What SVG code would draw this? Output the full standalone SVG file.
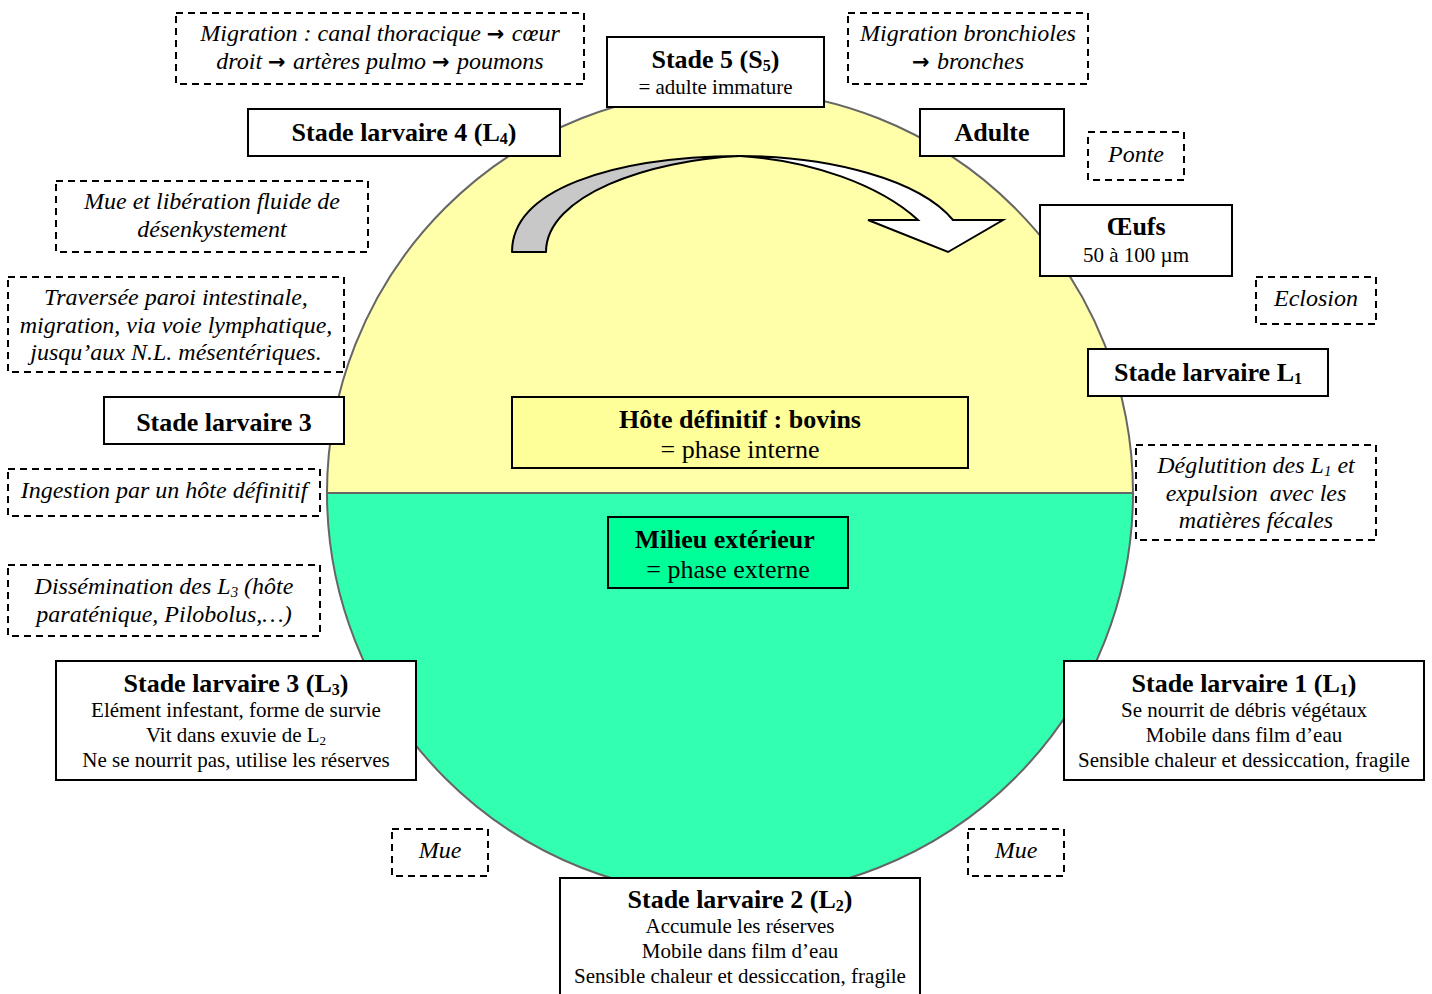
<svg xmlns="http://www.w3.org/2000/svg" width="1432" height="994" viewBox="0 0 1432 994" font-family="Liberation Serif">
<style>
.box{fill:#fff;stroke:#000;stroke-width:2}
.dash{fill:#fff;stroke:#000;stroke-width:2;stroke-dasharray:7,5}
.t{fill:#000;text-anchor:middle}
.b{font-weight:bold;font-size:26px}
.r{font-size:21px}
.i{font-style:italic;font-size:24px}
.s{font-size:62%}
.ar{font-family:"DejaVu Sans";font-style:normal;font-weight:bold;font-size:21px}
</style>
<rect width="1432" height="994" fill="#fff"/>
<g id="cycle">
<path d="M327,493 A403,403 0 0 1 1133,493 Z" fill="#FFFFAA"/>
<path d="M327,493 A403,403 0 0 0 1133,493 Z" fill="#33FFB0"/>
<circle cx="730" cy="493" r="403" fill="none" stroke="#666" stroke-width="2"/>
<line x1="327" y1="493" x2="1133" y2="493" stroke="#666" stroke-width="2"/>
</g>
<g id="connectors">
<path d="M512,252 C512,190 610,157 740,156 C650,160 546,195 546,252 Z" fill="#C8C8C8" stroke="#000" stroke-width="2" stroke-linejoin="round"/>
<path d="M740,156 C830,156 920,180 953,220 L1003,220 L948,252 L868,220 L918,220 C880,185 810,160 740,156 Z" fill="#fff" stroke="#000" stroke-width="2" stroke-linejoin="miter"/>
</g>
<g id="n-s5"><rect class="box" x="607" y="37" width="217" height="70"/>
<text class="t b" x="715.5" y="68">Stade 5 (S<tspan class="s" dy="3">5</tspan><tspan dy="-3">)</tspan></text>
<text class="t r" x="715.5" y="94">= adulte immature</text></g>
<g id="n-l4"><rect class="box" x="248" y="109" width="312" height="47"/>
<text class="t b" x="404" y="141">Stade larvaire 4 (L<tspan class="s" dy="3">4</tspan><tspan dy="-3">)</tspan></text></g>
<g id="n-adulte"><rect class="box" x="920" y="109" width="144" height="47"/>
<text class="t b" x="992" y="141">Adulte</text></g>
<g id="n-oeufs"><rect class="box" x="1040" y="205" width="192" height="71"/>
<text class="t b" x="1136" y="235">Œufs</text>
<text class="t r" x="1136" y="262">50 à 100 µm</text></g>
<g id="n-l1s"><rect class="box" x="1088" y="349" width="240" height="47"/>
<text class="t b" x="1208" y="381">Stade larvaire L<tspan class="s" dy="3">1</tspan></text></g>
<g id="n-l3s"><rect class="box" x="104" y="397" width="240" height="47"/>
<text class="t b" x="224" y="431">Stade larvaire 3</text></g>
<g id="n-hote"><rect x="512" y="397" width="456" height="71" fill="#FFFF99" stroke="#000" stroke-width="2"/>
<text class="t b" x="740" y="428">Hôte définitif : bovins</text>
<text class="t" x="740" y="458" font-size="26">= phase interne</text></g>
<g id="n-milieu"><rect x="608" y="517" width="240" height="71" fill="#00FF99" stroke="#000" stroke-width="2"/>
<text class="t b" x="725" y="548">Milieu extérieur</text>
<text class="t" x="728" y="578" font-size="26">= phase externe</text></g>
<g id="n-l3"><rect class="box" x="56" y="661" width="360" height="119"/>
<text class="t b" x="236" y="692">Stade larvaire 3 (L<tspan class="s" dy="3">3</tspan><tspan dy="-3">)</tspan></text>
<text class="t r" x="236" y="717">Elément infestant, forme de survie</text>
<text class="t r" x="236" y="742">Vit dans exuvie de L<tspan class="s" dy="3">2</tspan></text>
<text class="t r" x="236" y="767">Ne se nourrit pas, utilise les réserves</text></g>
<g id="n-l1"><rect class="box" x="1064" y="661" width="360" height="119"/>
<text class="t b" x="1244" y="692">Stade larvaire 1 (L<tspan class="s" dy="3">1</tspan><tspan dy="-3">)</tspan></text>
<text class="t r" x="1244" y="717">Se nourrit de débris végétaux</text>
<text class="t r" x="1244" y="742">Mobile dans film d’eau</text>
<text class="t r" x="1244" y="767">Sensible chaleur et dessiccation, fragile</text></g>
<g id="n-l2"><rect class="box" x="560" y="878" width="360" height="130"/>
<text class="t b" x="740" y="908">Stade larvaire 2 (L<tspan class="s" dy="3">2</tspan><tspan dy="-3">)</tspan></text>
<text class="t r" x="740" y="933">Accumule les réserves</text>
<text class="t r" x="740" y="958">Mobile dans film d’eau</text>
<text class="t r" x="740" y="983">Sensible chaleur et dessiccation, fragile</text></g>
<g id="d-migration"><rect class="dash" x="176" y="13" width="408" height="71"/>
<text class="t i" x="380" y="41">Migration : canal thoracique <tspan class="ar">→ </tspan>cœur</text>
<text class="t i" x="380" y="69">droit <tspan class="ar">→ </tspan>artères pulmo <tspan class="ar">→ </tspan>poumons</text></g>
<g id="d-bronch"><rect class="dash" x="848" y="13" width="240" height="71"/>
<text class="t i" x="968" y="41">Migration bronchioles</text>
<text class="t i" x="968" y="69"><tspan class="ar">→ </tspan>bronches</text></g>
<g id="d-ponte"><rect class="dash" x="1088" y="132" width="96" height="48"/>
<text class="t i" x="1136" y="162">Ponte</text></g>
<g id="d-mue1"><rect class="dash" x="56" y="181" width="312" height="71"/>
<text class="t i" x="212" y="209">Mue et libération fluide de</text>
<text class="t i" x="212" y="237">désenkystement</text></g>
<g id="d-eclosion"><rect class="dash" x="1256" y="277" width="120" height="47"/>
<text class="t i" x="1316" y="306">Eclosion</text></g>
<g id="d-traversee"><rect class="dash" x="8" y="277" width="336" height="95"/>
<text class="t i" x="176" y="305">Traversée paroi intestinale,</text>
<text class="t i" x="176" y="333">migration, via voie lymphatique,</text>
<text class="t i" x="176" y="360">jusqu’aux N.L. mésentériques.</text></g>
<g id="d-ingestion"><rect class="dash" x="8" y="469" width="312" height="47"/>
<text class="t i" x="164" y="498">Ingestion par un hôte définitif</text></g>
<g id="d-deglut"><rect class="dash" x="1136" y="445" width="240" height="95"/>
<text class="t i" x="1256" y="473">Déglutition des L<tspan class="s" dy="3">1</tspan><tspan dy="-3"> et</tspan></text>
<text class="t i" x="1256" y="501" style="white-space:pre">expulsion  avec les</text>
<text class="t i" x="1256" y="528">matières fécales</text></g>
<g id="d-dissem"><rect class="dash" x="8" y="565" width="312" height="71"/>
<text class="t i" x="164" y="594">Dissémination des L<tspan class="s" dy="3">3</tspan><tspan dy="-3"> (hôte</tspan></text>
<text class="t i" x="164" y="622">paraténique, Pilobolus,…)</text></g>
<g id="d-mue2"><rect class="dash" x="392" y="829" width="96" height="47"/>
<text class="t i" x="440" y="858">Mue</text></g>
<g id="d-mue3"><rect class="dash" x="968" y="829" width="96" height="47"/>
<text class="t i" x="1016" y="858">Mue</text></g>
</svg>
